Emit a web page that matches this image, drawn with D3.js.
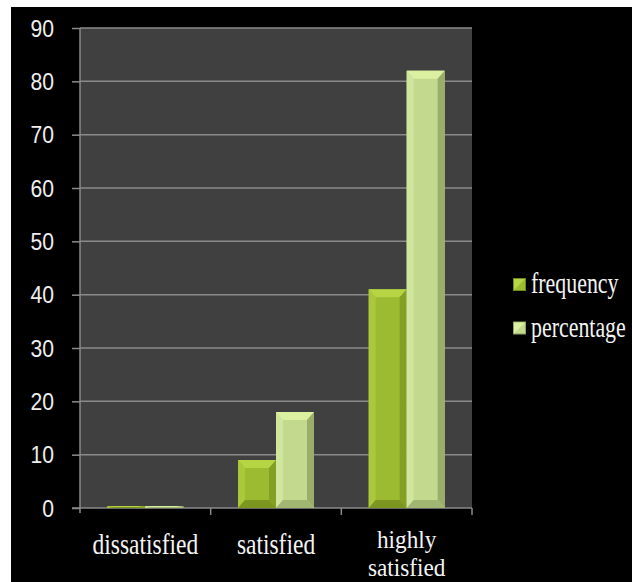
<!DOCTYPE html>
<html>
<head>
<meta charset="utf-8">
<script src="https://cdn.jsdelivr.net/npm/d3@7"></script>
<style>
  html, body { margin: 0; padding: 0; background: #ffffff; }
  svg { display: block; }
</style>
</head>
<body>
<script>
const categories = ["dissatisfied", "satisfied", "highly satisfied"];
const seriesNames = ["frequency", "percentage"];
const frequency = [0, 9, 41];
const percentage = [0, 18, 82];
const yTickValues = [0, 10, 20, 30, 40, 50, 60, 70, 80, 90];

const W = 632, H = 582;
const svg = d3.select("body").append("svg").attr("width", W).attr("height", H);

// white frame and black chart area
svg.append("rect").attr("x", 0).attr("y", 0).attr("width", W).attr("height", H).attr("fill", "#ffffff");
svg.append("rect").attr("x", 11).attr("y", 7).attr("width", W - 11).attr("height", H - 7).attr("fill", "#000000");

const plot = { left: 80, right: 472, top: 28, bottom: 508 };

const x0 = d3.scaleBand().domain(categories).range([plot.left, plot.right]).padding(0);
const x1 = d3.scaleBand().domain(seriesNames).range([0, x0.bandwidth()]).paddingInner(0).paddingOuter(0.72);
const y = d3.scaleLinear().domain([0, 90]).range([plot.bottom, plot.top]);

// plot background
svg.append("rect")
  .attr("x", plot.left).attr("y", plot.top)
  .attr("width", plot.right - plot.left).attr("height", plot.bottom - plot.top)
  .attr("fill", "#404040");

// gridlines
svg.append("g").selectAll("line").data(yTickValues.filter(d => d > 0)).join("line")
  .attr("x1", plot.left).attr("x2", plot.right)
  .attr("y1", d => y(d)).attr("y2", d => y(d))
  .attr("stroke", "#8a8a8a").attr("stroke-width", 1.5);

// y axis
const yAxis = svg.append("g").attr("transform", `translate(${plot.left},0)`)
  .call(d3.axisLeft(y).tickValues(yTickValues).tickSize(8).tickPadding(0).tickFormat(d3.format("d")));
yAxis.select(".domain").remove();
yAxis.selectAll(".tick line").attr("stroke", "#8a8a8a").attr("stroke-width", 1.5);
yAxis.selectAll(".tick text").remove();
yAxis.selectAll(".tick").append("text")
  .attr("transform", "translate(-26,8) scale(0.92,1)")
  .attr("text-anchor", "end")
  .attr("fill", "#eeeeee")
  .style("font-family", "'Liberation Sans', Arial, sans-serif")
  .style("font-size", "23px")
  .text(d => d);
svg.append("line").attr("x1", plot.left).attr("x2", plot.left)
  .attr("y1", plot.top).attr("y2", plot.bottom + 5)
  .attr("stroke", "#8a8a8a").attr("stroke-width", 1.5);

// x axis line and boundary ticks
svg.append("line").attr("x1", plot.left - 8).attr("x2", plot.right)
  .attr("y1", plot.bottom).attr("y2", plot.bottom)
  .attr("stroke", "#8a8a8a").attr("stroke-width", 1.5);
const bounds = categories.map(c => x0(c)).concat([x0(categories[categories.length - 1]) + x0.bandwidth()]);
svg.append("g").selectAll("line").data(bounds.slice(1)).join("line")
  .attr("x1", d => d).attr("x2", d => d)
  .attr("y1", plot.bottom).attr("y2", plot.bottom + 7)
  .attr("stroke", "#8a8a8a").attr("stroke-width", 1.5);

// category labels
const labelG = svg.append("g");
categories.forEach(c => {
  const words = c === "highly satisfied" ? ["highly", "satisfied"] : [c];
  const multi = words.length > 1;
  words.forEach((w, i) => {
    const by = multi ? 548 + i * 28 : 554;
    labelG.append("text")
      .attr("transform", `translate(${x0(c) + x0.bandwidth() / 2},${by}) scale(${multi ? 0.93 : 0.81},1)`)
      .attr("text-anchor", "middle")
      .attr("fill", "#f4f4f4")
      .style("font-family", "'Liberation Serif', 'Times New Roman', serif")
      .style("font-size", multi ? "25px" : "29px")
      .text(w);
  });
});

// bevel bar drawing
const palettes = {
  frequency: { front: "#9dbb30", top: "#b6d444", left: "#aac83a", right: "#84a024", bottom: "#7c9620", edge: "#6f8a1c" },
  percentage: { front: "#c3d98e", top: "#dcf0a2", left: "#d0e69c", right: "#9bad6b", bottom: "#a2b674", edge: "#8fa060" }
};

function bevelBar(g, x, yTop, w, h, p) {
  const hh = Math.max(h, 2);
  const yT = plot.bottom - hh;
  const bh = Math.min(7, w / 2);
  const bv = Math.min(8, hh / 2);
  const xl = x, xr = x + w, yt = yT, yb = plot.bottom;
  g.append("rect").attr("x", xl).attr("y", yt).attr("width", w).attr("height", hh).attr("fill", p.front);
  g.append("polygon").attr("points", [[xl, yt], [xr, yt], [xr - bh, yt + bv], [xl + bh, yt + bv]].join(" ")).attr("fill", p.top);
  g.append("polygon").attr("points", [[xl, yt], [xl + bh, yt + bv], [xl + bh, yb - bv], [xl, yb]].join(" ")).attr("fill", p.left);
  g.append("polygon").attr("points", [[xr, yt], [xr, yb], [xr - bh, yb - bv], [xr - bh, yt + bv]].join(" ")).attr("fill", p.right);
  g.append("polygon").attr("points", [[xl, yb], [xl + bh, yb - bv], [xr - bh, yb - bv], [xr, yb]].join(" ")).attr("fill", p.bottom);
}

const barsG = svg.append("g");
const seriesValues = { frequency: frequency, percentage: percentage };
categories.forEach((c, i) => {
  seriesNames.forEach(s => {
    const v = seriesValues[s][i];
    const bx = x0(c) + x1(s);
    bevelBar(barsG, bx, y(v), x1.bandwidth(), y(0) - y(v), palettes[s]);
  });
});

// legend
const legend = svg.append("g");
seriesNames.forEach((s, i) => {
  const ly = 278 + i * 43.5;
  const p = palettes[s];
  const lx = 513, sz = 13;
  legend.append("rect").attr("x", lx).attr("y", ly).attr("width", sz).attr("height", sz).attr("fill", p.edge);
  legend.append("rect").attr("x", lx + 1).attr("y", ly + 1).attr("width", sz - 2).attr("height", sz - 2).attr("fill", p.front);
  legend.append("polygon").attr("points", [[lx + 1, ly + 1], [lx + sz - 1, ly + 1], [lx + 1, ly + sz - 1]].join(" ")).attr("fill", p.top);
  legend.append("text")
    .attr("transform", `translate(531,${ly + 15}) scale(0.755,1)`)
    .attr("fill", "#f4f4f4")
    .style("font-family", "'Liberation Serif', 'Times New Roman', serif")
    .style("font-size", "29px")
    .text(s);
});
</script>
</body>
</html>
